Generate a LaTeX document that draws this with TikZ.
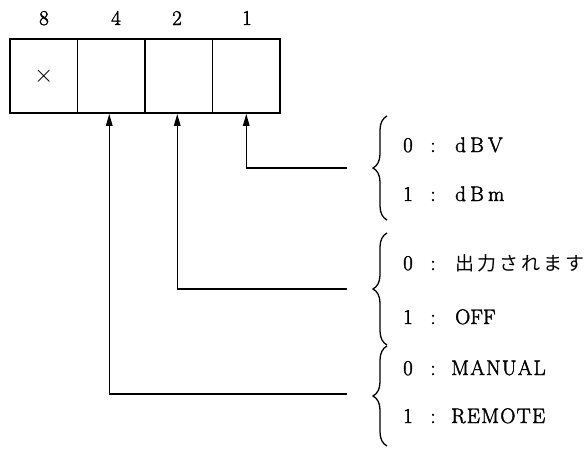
\documentclass[tikz,border=0pt]{standalone}
\usepackage{fontspec}
\setmainfont[FakeBold=2]{Latin Modern Roman}
\newfontfamily\wide[LetterSpace=6,FakeBold=2]{Latin Modern Roman}
\newfontfamily\wider[LetterSpace=20,FakeBold=2]{Latin Modern Roman}
\newfontfamily\jp[LetterSpace=16]{Noto Sans CJK JP}
\usetikzlibrary{decorations.pathreplacing,arrows.meta}
\begin{document}
\begin{tikzpicture}[x=1pt,y=-1pt,font=\fontsize{21}{24}\selectfont,
  cell/.style={draw,line width=1.7pt,minimum width=67.5pt,minimum height=74pt,inner sep=0pt},
  conn/.style={line width=1.4pt,-{Triangle[length=12pt,width=6.5pt]}},
  brc/.style={decorate,decoration={brace,amplitude=14pt},line width=1.3pt},
  lbl/.style={inner sep=0pt,text height=14pt,text depth=0pt},
  txt/.style={lbl,anchor=west,font=\fontsize{21}{24}\wide}]
\useasboundingbox (0,0) rectangle (585,453);
% top labels
\node[lbl] (t8) at (44,18) {8};
\node[lbl] (t4) at (116,18) {4};
\node[lbl] (t2) at (177,18) {2};
\node[lbl] (t1) at (247,18) {1};
% register cells
\node[cell] (c8) at (43.75,76) {\fontsize{26}{28}\selectfont$\times$};
\node[cell] (c4) at (111.25,76) {};
\node[cell] (c2) at (178.75,76) {};
\node[cell] (c1) at (246.25,76) {};
% connector ends
\coordinate (e1) at (347,168);
\coordinate (e2) at (347,289);
\coordinate (e4) at (347,394);
\draw[conn] (e1) -| (c1.south);
\draw[conn] (e2) -| ([xshift=-1.5pt]c2.south);
\draw[conn] (e4) -| ([xshift=-2pt]c4.south);
% braces
\coordinate (b1a) at (387,220); \coordinate (b1b) at (387,116);
\coordinate (b2a) at (387,345); \coordinate (b2b) at (387,233);
\coordinate (b3a) at (387,446); \coordinate (b3b) at (387,346);
\draw[brc] (b1a) -- (b1b);
\draw[brc] (b2a) -- (b2b);
\draw[brc] (b3a) -- (b3b);
% texts
\node[lbl] (n1a) at (408,145) {0};
\node[lbl] (k1a) at (433,145) {:};
\node[txt,font=\fontsize{21}{24}\wider] (v1a) at (455,145) {dBV};
\node[lbl] (n1b) at (408,194) {1};
\node[lbl] (k1b) at (433,194) {:};
\node[txt,font=\fontsize{21}{24}\wider] (v1b) at (455,194) {dBm};
\node[lbl] (n2a) at (408,263) {0};
\node[lbl] (k2a) at (433,263) {:};
\node[lbl,anchor=west,font=\fontsize{19}{21}\jp] (v2a) at (455,263) {出力されます};
\node[lbl] (n2b) at (408,317) {1};
\node[lbl] (k2b) at (433,317) {:};
\node[txt,font=\fontsize{21}{24}\selectfont] (v2b) at (455,317) {OFF};
\node[lbl] (n3a) at (408,368) {0};
\node[lbl] (k3a) at (433,368) {:};
\node[txt] (v3a) at (451,368) {MANUAL};
\node[lbl] (n3b) at (408,416) {1};
\node[lbl] (k3b) at (433,416) {:};
\node[txt] (v3b) at (451,416) {REMOTE};
\end{tikzpicture}
\end{document}
